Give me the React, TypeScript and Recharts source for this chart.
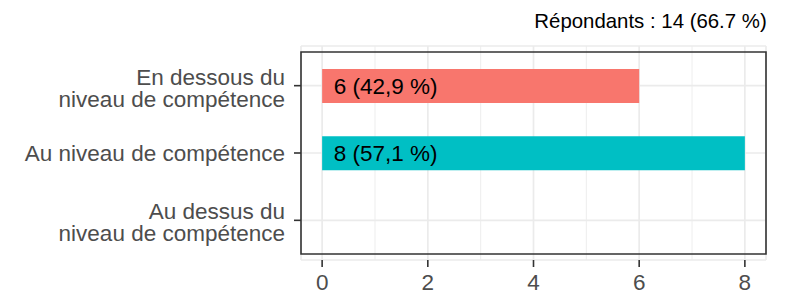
import {
    BarChart,
    Bar,
    XAxis,
    YAxis,
    CartesianGrid,
    ReferenceArea,
    LabelList,
    Cell,
} from 'recharts';

const categories = [
    'En dessous du\nniveau de compétence',
    'Au niveau de compétence',
    'Au dessus du\nniveau de compétence',
];
const counts: (number | null)[] = [6, 8, null];
const barLabels = ['6 (42,9 %)', '8 (57,1 %)', ''];
const barColors = ['#F8766D', '#00BFC4', '#619CFF'];
const xTicks = [0, 2, 4, 6, 8];
const xMinorTicks = [1, 3, 5, 7];
const xDomain: [number, number] = [-0.4, 8.4];
const titre = 'Répondants : 14 (66.7 %)';

const FONT = '"Liberation Sans", Arial, Helvetica, sans-serif';

const data = categories.map((cat, i) => ({
    cat,
    n: counts[i],
    label: barLabels[i],
}));

// ticks de l'axe Y sur une ou deux lignes
const CategoryTick = ({ x, y, payload }: any) => {
    const lines = String(payload.value).split('\n');
    const baselines = lines.length === 1 ? [8] : [-1, 21];
    return (
        <g>
            {lines.map((l, i) => (
                <text
                    key={i}
                    x={x}
                    y={y + baselines[i]}
                    textAnchor="end"
                    fill="#4d4d4d"
                    fontSize={22.5}
                    fontFamily={FONT}
                >
                    {l}
                </text>
            ))}
        </g>
    );
};

const BarText = ({ x, y, height, value }: any) => {
    if (!value) return null;
    return (
        <text
            x={x + 11.5}
            y={y + height / 2 + 8}
            fill="#000000"
            fontSize={22.5}
            fontFamily={FONT}
        >
            {value}
        </text>
    );
};

export default function App() {
    return (
        <div style={{ position: 'absolute', left: 0, top: 0, width: 788, height: 294 }}>
            <div
                style={{
                    position: 'absolute',
                    right: 21.3,
                    top: 10.6,
                    fontFamily: FONT,
                    fontSize: 20.4,
                    lineHeight: '20px',
                    color: '#000',
                    whiteSpace: 'nowrap',
                }}
            >
                {titre}
            </div>
            <BarChart
                width={788}
                height={294}
                data={data}
                layout="vertical"
                margin={{ top: 46, right: 22, bottom: 0, left: 0 }}
                barSize={34}
            >
                <CartesianGrid
                    horizontal={false}
                    verticalValues={xMinorTicks}
                    stroke="#ebebeb"
                    strokeWidth={0.9}
                />
                <CartesianGrid stroke="#ebebeb" strokeWidth={1.7} />
                <XAxis
                    type="number"
                    domain={xDomain}
                    ticks={xTicks}
                    height={34}
                    axisLine={false}
                    tickLine={{ stroke: '#333333', strokeWidth: 1.6 }}
                    tickSize={7}
                    tickMargin={7}
                    tick={{ fill: '#4d4d4d', fontSize: 22.5, fontFamily: FONT }}
                />
                <YAxis
                    type="category"
                    dataKey="cat"
                    width={301}
                    padding={{ top: 6, bottom: 6 }}
                    axisLine={false}
                    tickLine={{ stroke: '#333333', strokeWidth: 1.6 }}
                    tickSize={7}
                    tickMargin={9}
                    tick={<CategoryTick />}
                    interval={0}
                />
                <Bar dataKey="n" isAnimationActive={false}>
                    {data.map((_, i) => (
                        <Cell key={i} fill={barColors[i]} />
                    ))}
                    <LabelList dataKey="label" content={<BarText />} />
                </Bar>
                <ReferenceArea
                    x1={xDomain[0]}
                    x2={xDomain[1]}
                    fill="none"
                    stroke="#333333"
                    strokeWidth={1.6}
                    ifOverflow="visible"
                />
            </BarChart>
        </div>
    );
}
